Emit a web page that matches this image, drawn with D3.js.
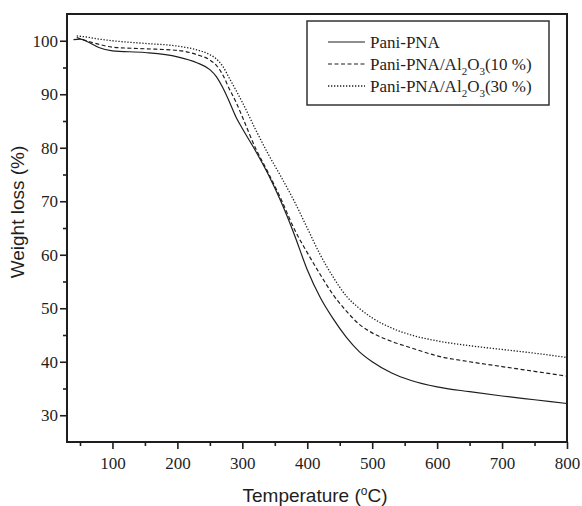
<!DOCTYPE html>
<html>
<head>
<meta charset="utf-8">
<script src="https://cdn.jsdelivr.net/npm/d3@7"></script>
<style>
  body { margin: 0; background: #fff; }
  svg { display: block; }
</style>
</head>
<body>
<svg id="chart" width="582" height="506"></svg>
<script>
// values
const tempPani = [40, 50, 60, 80, 100, 150, 200, 230, 250, 260, 270, 280, 290, 300, 320, 340, 360, 380, 400, 420, 440, 460, 480, 500, 530, 560, 600, 650, 700, 750, 800];
const weightPani = [100.2, 100.3, 99.9, 98.7, 98.1, 97.8, 97.0, 95.9, 94.6, 93.3, 91.2, 88.6, 85.8, 83.6, 79.5, 75.0, 69.8, 63.8, 57.2, 52.0, 48.0, 44.6, 41.9, 40.0, 37.9, 36.5, 35.3, 34.4, 33.6, 32.9, 32.2];

const tempAl10 = [45, 60, 80, 100, 150, 200, 230, 250, 260, 270, 280, 290, 300, 320, 340, 360, 380, 400, 420, 440, 460, 480, 500, 530, 560, 600, 650, 700, 750, 800];
const weightAl10 = [100.6, 100.0, 99.3, 98.8, 98.5, 98.2, 97.4, 96.4, 95.4, 93.6, 91.0, 88.6, 85.8, 80.0, 75.3, 70.3, 64.8, 60.4, 56.3, 52.5, 49.5, 47.0, 45.4, 43.8, 42.6, 41.1, 40.0, 39.1, 38.2, 37.3];

const tempAl30 = [45, 60, 80, 100, 150, 200, 230, 250, 260, 270, 280, 290, 300, 320, 340, 360, 380, 400, 420, 440, 460, 480, 500, 530, 560, 600, 650, 700, 750, 800];
const weightAl30 = [100.9, 100.7, 100.3, 100.0, 99.5, 99.0, 98.3, 97.4, 96.6, 95.2, 93.0, 90.8, 88.5, 83.5, 78.8, 74.5, 70.0, 65.0, 60.0, 55.8, 52.3, 50.0, 48.2, 46.3, 45.0, 43.9, 43.0, 42.3, 41.6, 40.8];

const xMajor = [100, 200, 300, 400, 500, 600, 700, 800];
const xMinor = [50, 150, 250, 350, 450, 550, 650, 750];
const yMajor = [30, 40, 50, 60, 70, 80, 90, 100];
const yMinor = [35, 45, 55, 65, 75, 85, 95];

const seriesNames = ["Pani-PNA", "Pani-PNA/Al2O3(10 %)", "Pani-PNA/Al2O3(30 %)"];

const plotLeft = 67, plotRight = 567, plotTop = 14, plotBottom = 442;
const ink = "#1e1e1e";
const serif = "'Liberation Serif', 'Times New Roman', serif";
const sans = "'Liberation Sans', Arial, sans-serif";

const svg = d3.select("#chart");

let x = d3.scaleLinear().domain([30, 800]).range([plotLeft, plotRight]);
let y = d3.scaleLinear().domain([25, 105]).range([plotBottom, plotTop]);

// curves
const series = [
    { t: tempPani, w: weightPani, dash: null, width: 1.2 },
    { t: tempAl10, w: weightAl10, dash: "4,2.5", width: 1.2 },
    { t: tempAl30, w: weightAl30, dash: "1.3,1.7", width: 1.3 }
];

let line = d3.line()
    .x(d => x(d[0]))
    .y(d => y(d[1]))
    .curve(d3.curveMonotoneX);

svg.append("g")
    .selectAll("path")
    .data(series)
    .enter()
    .append("path")
    .attr("d", s => line(s.t.map((t, i) => [t, s.w[i]])))
    .attr("fill", "none")
    .attr("stroke", ink)
    .attr("stroke-width", s => s.width)
    .attr("stroke-dasharray", s => s.dash);

// axes: majors with labels, minors without
function styleAxis(g) {
    g.attr("font-family", serif).attr("font-size", 17);
    g.select(".domain").remove();
    g.selectAll(".tick line").attr("stroke", ink).attr("stroke-width", 1.6);
    g.selectAll(".tick text").attr("fill", ink);
}

svg.append("g")
    .attr("transform", "translate(0," + plotBottom + ")")
    .call(d3.axisBottom(x).tickValues(xMajor).tickSize(7).tickPadding(8).tickFormat(d3.format("d")))
    .call(styleAxis);

svg.append("g")
    .attr("transform", "translate(0," + plotBottom + ")")
    .call(d3.axisBottom(x).tickValues(xMinor).tickSize(4).tickFormat(""))
    .call(styleAxis);

svg.append("g")
    .attr("transform", "translate(" + plotLeft + ",0)")
    .call(d3.axisLeft(y).tickValues(yMajor).tickSize(7).tickPadding(2).tickFormat(d3.format("d")))
    .call(styleAxis);

svg.append("g")
    .attr("transform", "translate(" + plotLeft + ",0)")
    .call(d3.axisLeft(y).tickValues(yMinor).tickSize(4).tickFormat(""))
    .call(styleAxis);

// frame
svg.append("rect")
    .attr("x", plotLeft)
    .attr("y", plotTop)
    .attr("width", plotRight - plotLeft)
    .attr("height", plotBottom - plotTop)
    .attr("fill", "none")
    .attr("stroke", ink)
    .attr("stroke-width", 2);

// axis titles
let xTitle = svg.append("text")
    .attr("x", (plotLeft + plotRight) / 2 - 2)
    .attr("y", 502)
    .attr("text-anchor", "middle")
    .attr("fill", ink)
    .style("font-family", sans)
    .style("font-size", "19px");
xTitle.append("tspan").text("Temperature (");
xTitle.append("tspan").attr("dy", -7).style("font-size", "12px").text("o");
xTitle.append("tspan").attr("dy", 7).text("C)");

svg.append("text")
    .attr("transform", "translate(24,212) rotate(-90)")
    .attr("text-anchor", "middle")
    .attr("fill", ink)
    .style("font-family", sans)
    .style("font-size", "19px")
    .text("Weight loss (%)");

// legend
let legend = svg.append("g");
legend.append("rect")
    .attr("x", 307)
    .attr("y", 21)
    .attr("width", 242)
    .attr("height", 84)
    .attr("fill", "#fff")
    .attr("stroke", "#333")
    .attr("stroke-width", 1.5);

let rows = legend.selectAll("g.row")
    .data(series)
    .enter()
    .append("g")
    .attr("class", "row")
    .attr("transform", (d, i) => "translate(0," + (42 + i * 22) + ")");

rows.append("line")
    .attr("x1", 328)
    .attr("x2", 365)
    .attr("stroke", ink)
    .attr("stroke-width", d => d.width)
    .attr("stroke-dasharray", d => d.dash);

rows.each(function (d, i) {
    let t = d3.select(this).append("text")
        .attr("x", 370)
        .attr("y", 6)
        .attr("fill", ink)
        .style("font-family", serif)
        .style("font-size", "17px");
    let name = seriesNames[i];
    if (name.indexOf("Al2O3") < 0) {
        t.text(name);
    } else {
        let parts = name.split("Al2O3");
        t.append("tspan").text(parts[0] + "Al");
        t.append("tspan").attr("dy", 5).style("font-size", "11px").text("2");
        t.append("tspan").attr("dy", -5).text("O");
        t.append("tspan").attr("dy", 5).style("font-size", "11px").text("3");
        t.append("tspan").attr("dy", -5).text(parts[1]);
    }
});
</script>
</body>
</html>
